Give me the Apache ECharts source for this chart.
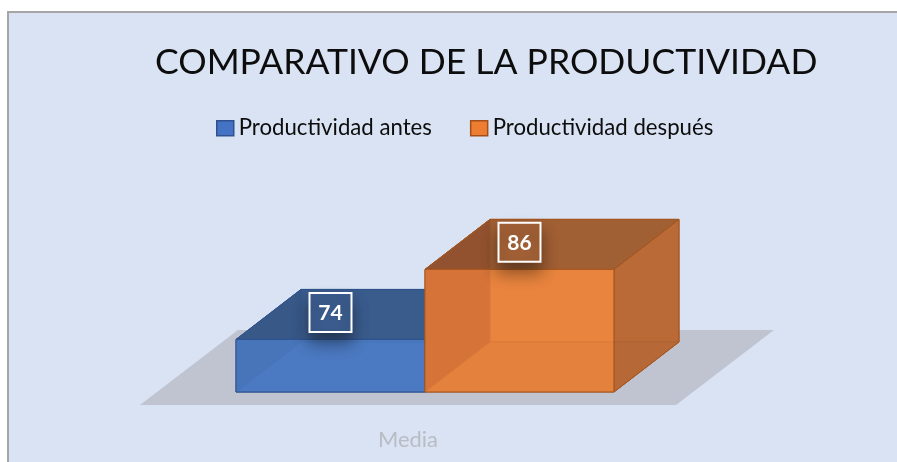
<!DOCTYPE html>
<html>
<head>
<meta charset="utf-8">
<script src="https://cdn.jsdelivr.net/npm/echarts@6/dist/echarts.min.js"></script>
<style>html,body{margin:0;padding:0;background:#fff;}#c{width:897px;height:462px;}</style>
</head>
<body>
<div id="c"></div>
<script>
// ---- data ----
const CATEGORIES = ['Media'];
const SERIES_NAMES = ['Productividad antes', 'Productividad después'];
const VALUES_ANTES = [74];
const VALUES_DESPUES = [86];
const TITLE = 'COMPARATIVO DE LA PRODUCTIVIDAD';
const Y_MIN = 65, Y_MAX = 90;

// ---- projection / layout constants ----
const GAP_FRAC = 0.1474, BAR_FRAC = 0.3526;
const FRONT_DX = 17, FRONT_DY = -13;
const BOX_DX = 65, BOX_DY = -50;
const FLOOR_DX = 98, FLOOR_DY = -75;
const FONT = 'Lato, "Open Sans", sans-serif';

const PAL = [
  { back:'rgb(61,100,170)', bottom:'rgb(68,114,196)', left:'rgb(46,78,136)', right:'rgba(50,85,150,0.85)',
    top:'rgba(58,90,136,0.85)', front:'rgba(76,123,194,0.85)', edge:'#2F528F', label:'rgb(59,92,142)',
    legend:'#4472C4', legendBorder:'#2F528F' },
  { back:'rgb(230,130,62)', bottom:'rgb(205,115,57)', left:'rgb(135,45,37)', right:'rgba(177,102,54,0.85)',
    top:'rgba(148,89,51,0.85)', front:'rgba(233,133,63,0.8)', edge:'#A4561F', label:'rgb(162,96,54)',
    legend:'#ED7D31', legendBorder:'#A34F1B' }
];

function fitSize(text, weight, target) {
  const ctx = document.createElement('canvas').getContext('2d');
  ctx.font = weight + ' 100px ' + FONT;
  return Math.round(100 * target / ctx.measureText(text).width * 10) / 10;
}
const titleSize = fitSize(TITLE, 'normal', 663);
const legendSize = fitSize(SERIES_NAMES[0], 'normal', 193);
const catSize = fitSize(CATEGORIES[0], 'normal', 60);

function poly(points, fill, stroke) {
  return { type:'polygon', shape:{ points }, style:{ fill, stroke, lineWidth:1 } };
}

function floorRenderer(params, api) {
  const band = api.size([1, 0])[0];
  const base = api.coord([api.value(0), Y_MIN]);
  const s = base[0] - band / 2, e = base[0] + band / 2, y = base[1];
  return poly([[s, y], [e, y], [e + FLOOR_DX, y + FLOOR_DY], [s + FLOOR_DX, y + FLOOR_DY]], '#BFC4D0', null);
}

function boxRenderer(slot) {
  const p = PAL[slot];
  return function (params, api) {
    const cat = api.value(0), val = api.value(1);
    const band = api.size([1, 0])[0];
    const base = api.coord([cat, Y_MIN]);
    const topPt = api.coord([cat, val]);
    const start = base[0] - band / 2;
    const x0 = start + band * GAP_FRAC + slot * band * BAR_FRAC + FRONT_DX;
    const x1 = x0 + band * BAR_FRAC;
    const yb = base[1] + FRONT_DY, yt = topPt[1] + FRONT_DY;
    const dx = BOX_DX, dy = BOX_DY;
    const cx = (x0 + x1) / 2, ly = yt - 27;
    return {
      type: 'group',
      children: [
        poly([[x0+dx,yb+dy],[x1+dx,yb+dy],[x1+dx,yt+dy],[x0+dx,yt+dy]], p.back, p.edge),
        poly([[x0,yb],[x1,yb],[x1+dx,yb+dy],[x0+dx,yb+dy]], p.bottom, p.edge),
        poly([[x0,yb],[x0+dx,yb+dy],[x0+dx,yt+dy],[x0,yt]], p.left, p.edge),
        poly([[x1,yb],[x1+dx,yb+dy],[x1+dx,yt+dy],[x1,yt]], p.right, p.edge),
        poly([[x0,yt],[x1,yt],[x1+dx,yt+dy],[x0+dx,yt+dy]], p.top, p.edge),
        poly([[x0,yb],[x1,yb],[x1,yt],[x0,yt]], p.front, p.edge),
        { type:'rect', shape:{ x:cx-21, y:ly-19.5, width:42, height:39 },
          style:{ fill:p.label, stroke:'#fff', lineWidth:2, shadowBlur:16, shadowOffsetY:10, shadowColor:'rgba(0,0,0,0.4)' } },
        { type:'text', x:cx, y:ly+1,
          style:{ text:String(val), fill:'#fff', font:'bold 21px ' + FONT, align:'center', verticalAlign:'middle' } }
      ]
    };
  };
}

const chart = echarts.init(document.getElementById('c'));
chart.setOption({
  backgroundColor: '#fff',
  animation: false,
  graphic: [{ type:'rect', z:-10, shape:{ x:8, y:12, width:900, height:460 },
    style:{ fill:'#DAE3F3', stroke:'#A6A6A6', lineWidth:2 } }],
  title: { text: TITLE, left: 150, top: 63.5 - titleSize * 0.6 - 3,
    textStyle: { fontFamily: FONT, fontWeight: 'normal', fontSize: titleSize, color: '#0d0d0d' } },
  legend: { left: 211, top: 127.5 - legendSize * 0.6 - 2, itemWidth: 17, itemHeight: 15, itemGap: 38,
    textStyle: { fontFamily: FONT, fontSize: legendSize, color: '#0d0d0d' },
    data: SERIES_NAMES.map((n, i) => ({ name: n, icon: 'rect',
      itemStyle: { color: PAL[i].legend, borderColor: PAL[i].legendBorder, borderWidth: 1.5 } })) },
  grid: { left: 140, right: 221, top: 259, bottom: 57 },
  xAxis: { type: 'category', data: CATEGORIES,
    axisLine: { show: false }, axisTick: { show: false }, splitLine: { show: false },
    axisLabel: { margin: 24, fontFamily: FONT, fontSize: catSize, color: '#B8BCC4' } },
  yAxis: { type: 'value', min: Y_MIN, max: Y_MAX, show: false, splitLine: { show: false } },
  series: [
    { type: 'custom', name: 'floor', silent: true, renderItem: floorRenderer,
      data: CATEGORIES.map((c, i) => [i, Y_MIN]) },
    { type: 'custom', name: SERIES_NAMES[0], renderItem: boxRenderer(0), itemStyle: { color: PAL[0].legend },
      data: VALUES_ANTES.map((v, i) => [i, v]) },
    { type: 'custom', name: SERIES_NAMES[1], renderItem: boxRenderer(1), itemStyle: { color: PAL[1].legend },
      data: VALUES_DESPUES.map((v, i) => [i, v]) }
  ]
});
</script>
</body>
</html>
